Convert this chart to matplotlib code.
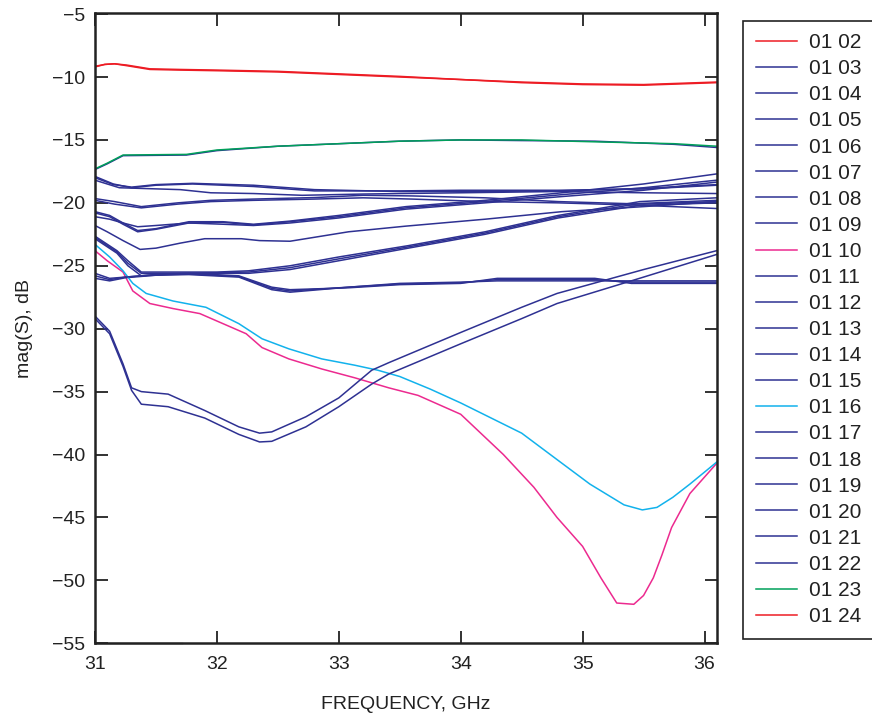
import matplotlib
matplotlib.use("Agg")
import matplotlib.pyplot as plt

plt.rcParams['font.family'] = ['Liberation Sans', 'DejaVu Sans']

BLUE = '#2e3192'
RED = '#ed1c24'
PINK = '#ec2a8f'
CYAN = '#12b2ec'
GREEN = '#00a05a'

# ---- data (frequency in GHz, magnitude in dB) ----
f_red = [31.0, 31.08, 31.16, 31.26, 31.45, 31.7, 32.0, 32.5, 33.0, 33.5, 34.0, 34.5, 35.0, 35.5, 36.1]
s_0102 = [-9.2, -9.0, -8.95, -9.1, -9.4, -9.45, -9.5, -9.6, -9.8, -10.0, -10.2, -10.45, -10.6, -10.65, -10.45]
s_0124 = [-9.15, -9.0, -8.95, -9.05, -9.35, -9.4, -9.45, -9.55, -9.75, -9.95, -10.2, -10.4, -10.55, -10.6, -10.4]

f_green = [31.0, 31.1, 31.23, 31.75, 32.0, 32.5, 33.0, 33.5, 34.0, 34.5, 35.1, 35.75, 36.1]
s_0123 = [-17.3, -16.85, -16.2, -16.15, -15.8, -15.5, -15.3, -15.1, -15.0, -15.0, -15.15, -15.3, -15.5]
s_0103 = [-17.35, -16.9, -16.25, -16.2, -15.85, -15.5, -15.3, -15.1, -15.0, -15.05, -15.1, -15.35, -15.6]

f_b04 = [31.0, 31.15, 31.3, 31.5, 31.8, 32.3, 32.8, 33.5, 34.0, 34.8, 35.5, 36.1]
s_0104 = [-17.9, -18.5, -18.8, -18.6, -18.5, -18.7, -19.05, -19.05, -19.0, -19.0, -18.9, -18.6]
s_0119 = [-18.0, -18.55, -18.75, -18.55, -18.45, -18.6, -18.95, -19.1, -19.1, -19.05, -18.85, -18.55]

f_b05 = [31.0, 31.2, 31.7, 31.95, 32.3, 32.7, 33.2, 33.5, 34.0, 34.8, 35.5, 36.1]
s_0105 = [-18.2, -18.8, -18.95, -19.2, -19.26, -19.4, -19.3, -19.26, -19.2, -19.1, -19.2, -19.26]

f_b06 = [31.0, 31.16, 31.38, 31.68, 31.95, 32.3, 32.8, 33.2, 33.6, 34.2, 34.8, 35.5, 36.1]
s_0106 = [-19.66, -19.9, -20.3, -20.0, -19.8, -19.7, -19.58, -19.4, -19.45, -19.6, -19.9, -20.1, -19.9]
s_0107 = [-19.8, -20.1, -20.4, -20.1, -19.9, -19.8, -19.7, -19.6, -19.7, -19.9, -20.0, -20.2, -20.45]

f_b08 = [31.0, 31.12, 31.23, 31.35, 31.5, 31.77, 32.05, 32.3, 32.6, 33.0, 33.55, 34.2, 34.83, 35.5, 36.1]
s_0108 = [-20.7, -21.0, -21.6, -22.2, -22.05, -21.5, -21.5, -21.7, -21.45, -21.0, -20.3, -19.8, -19.2, -18.5, -17.7]
s_0109 = [-21.1, -21.3, -21.6, -21.9, -21.8, -21.6, -21.7, -21.8, -21.6, -21.2, -20.5, -20.0, -19.5, -19.0, -18.35]
s_0120 = [-20.8, -21.1, -21.7, -22.3, -22.1, -21.6, -21.55, -21.75, -21.5, -21.1, -20.4, -19.9, -19.35, -18.8, -18.2]

f_b11 = [31.0, 31.1, 31.23, 31.37, 31.5, 31.7, 31.9, 32.2, 32.35, 32.6, 33.08, 33.55, 34.2, 34.83, 35.5, 36.1]
s_0111 = [-21.8, -22.3, -23.0, -23.7, -23.6, -23.2, -22.85, -22.85, -23.0, -23.05, -22.3, -21.85, -21.3, -20.7, -20.3, -19.9]

f_b12 = [31.0, 31.18, 31.27, 31.38, 31.6, 32.0, 32.26, 32.6, 33.0, 33.57, 34.2, 34.8, 35.47, 36.1]
s_0112 = [-22.65, -23.8, -24.6, -25.5, -25.5, -25.5, -25.4, -25.0, -24.3, -23.4, -22.3, -21.0, -19.9, -19.6]
s_0113 = [-22.85, -24.0, -25.0, -25.8, -25.7, -25.6, -25.6, -25.3, -24.6, -23.6, -22.5, -21.2, -20.2, -20.0]
s_0121 = [-22.75, -23.9, -24.8, -25.6, -25.6, -25.55, -25.5, -25.15, -24.45, -23.5, -22.4, -21.1, -20.05, -19.8]

f_b14 = [31.0, 31.12, 31.25, 31.5, 31.77, 32.18, 32.45, 32.6, 33.08, 33.5, 34.0, 34.3, 35.1, 35.4, 36.1]
s_0114 = [-25.6, -26.0, -25.9, -25.7, -25.6, -25.8, -26.7, -26.9, -26.75, -26.5, -26.4, -26.0, -26.0, -26.4, -26.4]
s_0115 = [-26.0, -26.2, -25.95, -25.75, -25.7, -25.9, -26.9, -27.1, -26.7, -26.4, -26.3, -26.2, -26.2, -26.2, -26.2]
s_0122 = [-25.8, -26.1, -25.9, -25.7, -25.65, -25.85, -26.8, -27.0, -26.7, -26.45, -26.35, -26.1, -26.1, -26.3, -26.3]

f_dip = [31.0, 31.12, 31.23, 31.3, 31.38, 31.6, 31.9, 32.18, 32.35, 32.45, 32.73, 33.0, 33.27, 33.41, 34.0, 34.5, 34.79, 35.5, 36.1]
s_0117 = [-29.0, -30.2, -32.8, -34.7, -35.0, -35.2, -36.5, -37.8, -38.3, -38.2, -37.0, -35.5, -33.3, -32.7, -30.3, -28.3, -27.2, -25.3, -23.8]
s_0118 = [-29.2, -30.4, -33.0, -34.9, -36.0, -36.2, -37.1, -38.4, -39.0, -38.95, -37.8, -36.2, -34.4, -33.6, -31.2, -29.2, -28.0, -25.9, -24.1]

f_pink = [31.0, 31.1, 31.23, 31.31, 31.45, 31.64, 31.86, 32.05, 32.24, 32.37, 32.59, 32.86, 33.13, 33.41,
          33.65, 34.0, 34.35, 34.6, 34.79, 35.0, 35.15, 35.28, 35.42, 35.5, 35.58, 35.65, 35.73, 35.88, 36.1]
s_0110 = [-23.8, -24.6, -25.5, -27.0, -28.0, -28.4, -28.8, -29.6, -30.4, -31.5, -32.4, -33.2, -33.9, -34.7,
          -35.3, -36.8, -40.0, -42.6, -45.0, -47.3, -49.8, -51.8, -51.9, -51.2, -49.8, -48.0, -45.8, -43.1, -40.7]

f_cyan = [31.0, 31.12, 31.23, 31.31, 31.42, 31.64, 31.91, 32.18, 32.37, 32.59, 32.86, 33.13, 33.32, 33.5,
          33.75, 34.0, 34.25, 34.5, 34.79, 35.06, 35.34, 35.49, 35.61, 35.74, 35.88, 36.1]
s_0116 = [-23.3, -24.3, -25.4, -26.4, -27.2, -27.8, -28.3, -29.6, -30.8, -31.6, -32.4, -32.9, -33.3, -33.8,
          -34.8, -35.9, -37.1, -38.3, -40.4, -42.35, -44.0, -44.4, -44.2, -43.4, -42.35, -40.6]

f_floor = [31.0, 31.71]
s_floor = [-55.0, -55.0]

series = [
    ('01 02', RED, f_red, s_0102),
    ('01 03', BLUE, f_green, s_0103),
    ('01 04', BLUE, f_b04, s_0104),
    ('01 05', BLUE, f_b05, s_0105),
    ('01 06', BLUE, f_b06, s_0106),
    ('01 07', BLUE, f_b06, s_0107),
    ('01 08', BLUE, f_b08, s_0108),
    ('01 09', BLUE, f_b08, s_0109),
    ('01 10', PINK, f_pink, s_0110),
    ('01 11', BLUE, f_b11, s_0111),
    ('01 12', BLUE, f_b12, s_0112),
    ('01 13', BLUE, f_b12, s_0113),
    ('01 14', BLUE, f_b14, s_0114),
    ('01 15', BLUE, f_b14, s_0115),
    ('01 16', CYAN, f_cyan, s_0116),
    ('01 17', BLUE, f_dip, s_0117),
    ('01 18', BLUE, f_dip, s_0118),
    ('01 19', BLUE, f_b04, s_0119),
    ('01 20', BLUE, f_b08, s_0120),
    ('01 21', BLUE, f_b12, s_0121),
    ('01 22', BLUE, f_b14, s_0122),
    ('01 23', GREEN, f_green, s_0123),
    ('01 24', RED, f_red, s_0124),
]

fig = plt.figure(figsize=(8.72, 7.17), dpi=100)
ax = fig.add_axes([95/872, 1-643.3/717, (716.7-95)/872, (643.3-12.7)/717])

for lab, col, f, s in series:
    ax.plot(f, s, color=col, lw=1.1, label=lab)
ax.plot(f_floor, s_floor, color='#777777', lw=1.0, clip_on=False)

ax.set_xlim(31, 36.1)
ax.set_ylim(-55, -4.89)
ax.set_xticks(range(31, 37))
ax.set_yticks(range(-55, 0, 5))
ax.tick_params(direction='in', length=9, width=1.3, top=True, right=True,
               labelsize=14, colors='#222222')
ax.tick_params(axis='x', pad=9)
ax.tick_params(axis='y', pad=7)
for sp in ax.spines.values():
    sp.set_linewidth(1.8)
    sp.set_color('#222222')

ax.set_xlabel('FREQUENCY, GHz', fontsize=14, color='#222222', labelpad=17)
ax.set_ylabel('mag(S), dB', fontsize=14, color='#222222', labelpad=14)

leg = fig.legend(loc='upper left', bbox_to_anchor=(743/872, 1-20.7/717),
                 bbox_transform=fig.transFigure, borderaxespad=0,
                 fontsize=15, handlelength=1.97, handletextpad=0.62,
                 labelspacing=0.34, borderpad=0.6, fancybox=False,
                 framealpha=1, edgecolor='#222222')
leg.get_frame().set_linewidth(1.2)
for t in leg.get_texts():
    t.set_color('#222222')

fig.savefig('out.png', dpi=100)
